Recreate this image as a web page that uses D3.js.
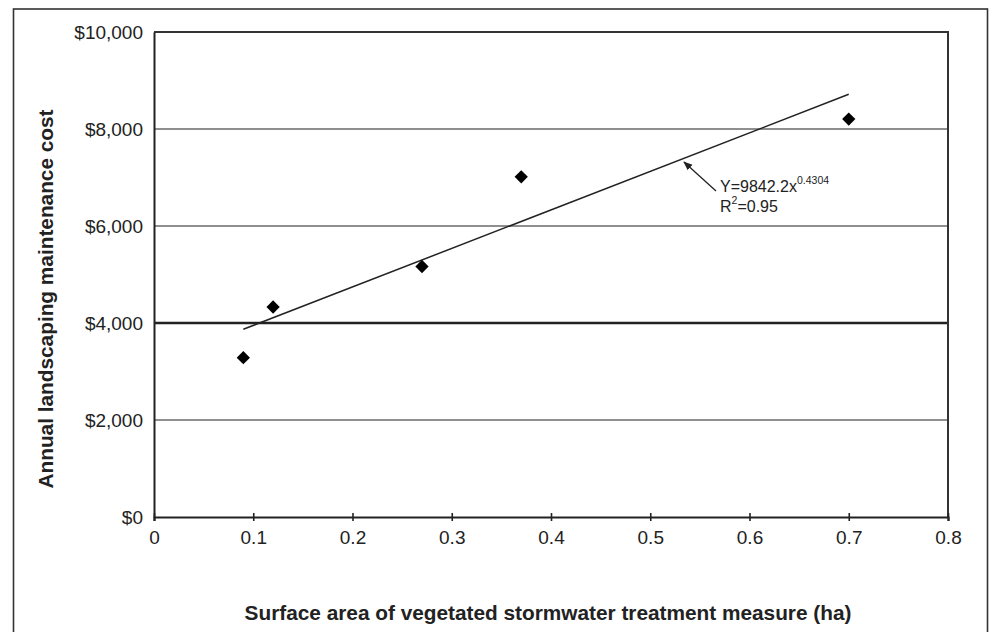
<!DOCTYPE html>
<html>
<head>
<meta charset="utf-8">
<script src="https://cdn.jsdelivr.net/npm/d3@7"></script>
<style>
  body { margin: 0; background: #fff; }
  svg { display: block; font-family: "Liberation Sans", Arial, sans-serif; }
</style>
</head>
<body>
<svg width="996" height="632"></svg>
<script>
// data
const areaHa = [0.09, 0.12, 0.27, 0.37, 0.70];
const costUsd = [3285, 4330, 5165, 7015, 8205];
// fitted trend line, as drawn (end points)
const trendX = [0.09, 0.70];
const trendY = [3870, 8715];
const xTicks = [0, 0.1, 0.2, 0.3, 0.4, 0.5, 0.6, 0.7, 0.8];
const yTicks = [0, 2000, 4000, 6000, 8000, 10000];
const heavyGrid = 4000;

const svg = d3.select('svg');

const plotL = 154, plotR = 948, plotT = 32, plotB = 517;

const x = d3.scaleLinear().domain([0, 0.8]).range([plotL, plotR]);
const y = d3.scaleLinear().domain([0, 10000]).range([plotB, plotT]);

// outer frame (runs off the bottom of the picture)
svg.append('rect')
    .attr('x', 13.5).attr('y', 9)
    .attr('width', 974).attr('height', 640)
    .attr('fill', 'none')
    .attr('stroke', '#333')
    .attr('stroke-width', 1.6);

// gridlines
svg.selectAll('line.grid')
    .data(yTicks.filter(d => d > 0 && d < 10000))
    .enter()
    .append('line')
    .attr('class', 'grid')
    .attr('x1', plotL).attr('x2', plotR)
    .attr('y1', d => y(d)).attr('y2', d => y(d))
    .attr('stroke', d => d === heavyGrid ? '#222' : '#6a6a6a')
    .attr('stroke-width', d => d === heavyGrid ? 2.4 : 1.5);

// plot border top and right
svg.append('path')
    .attr('d', `M${plotL},${y(10000)}H${plotR}V${plotB}`)
    .attr('fill', 'none')
    .attr('stroke', '#333')
    .attr('stroke-width', 2);

// y axis
const yAxis = svg.append('g')
    .attr('transform', `translate(${plotL},0)`)
    .call(d3.axisLeft(y).tickValues(yTicks).tickSize(0).tickPadding(11)
        .tickFormat(d => '$' + d3.format(',')(d)));
yAxis.select('.domain').attr('stroke', '#222').attr('stroke-width', 2);
yAxis.selectAll('text')
    .attr('font-size', 19)
    .attr('fill', '#222')
    .attr('font-family', '"Liberation Sans", Arial, sans-serif');

// x axis
const xAxis = svg.append('g')
    .attr('transform', `translate(0,${plotB})`)
    .call(d3.axisBottom(x).tickValues(xTicks).tickSize(4).tickPadding(0)
        .tickFormat(d => d3.format('')(d)));
xAxis.select('.domain').attr('stroke', '#222').attr('stroke-width', 2.2);
xAxis.selectAll('.tick line')
    .attr('y1', -4).attr('y2', 4)
    .attr('stroke', '#222').attr('stroke-width', 1.6);
xAxis.selectAll('text')
    .attr('y', 27).attr('dy', 0)
    .attr('font-size', 19)
    .attr('fill', '#222')
    .attr('font-family', '"Liberation Sans", Arial, sans-serif');

// trend line
svg.append('line')
    .attr('x1', x(trendX[0])).attr('y1', y(trendY[0]))
    .attr('x2', x(trendX[1])).attr('y2', y(trendY[1]))
    .attr('stroke', '#222')
    .attr('stroke-width', 1.5);

// data points
svg.selectAll('path.pt')
    .data(areaHa)
    .enter()
    .append('path')
    .attr('class', 'pt')
    .attr('d', d3.symbol(d3.symbolSquare, 88))
    .attr('transform', (d, i) => `translate(${x(d)},${y(costUsd[i])}) rotate(45)`)
    .attr('fill', '#000');

// annotation arrow + equation
const defs = svg.append('defs');
defs.append('marker')
    .attr('id', 'arr')
    .attr('viewBox', '0 0 10 10')
    .attr('refX', 9).attr('refY', 5)
    .attr('markerWidth', 7).attr('markerHeight', 7)
    .attr('orient', 'auto')
    .append('path')
    .attr('d', 'M0,1L10,5L0,9Z')
    .attr('fill', '#222');

svg.append('line')
    .attr('x1', 716).attr('y1', 191)
    .attr('x2', 684).attr('y2', 162)
    .attr('stroke', '#222')
    .attr('stroke-width', 1.3)
    .attr('marker-end', 'url(#arr)');

const eq = svg.append('text')
    .attr('x', 720).attr('y', 192)
    .attr('font-size', 16)
    .attr('fill', '#222');
eq.append('tspan').text('Y=9842.2x');
eq.append('tspan').attr('dy', -8).attr('font-size', 10.5).text('0.4304');

const r2 = svg.append('text')
    .attr('x', 720).attr('y', 211.5)
    .attr('font-size', 16)
    .attr('fill', '#222');
r2.append('tspan').text('R');
r2.append('tspan').attr('dy', -8).attr('font-size', 10.5).text('2');
r2.append('tspan').attr('dy', 8).text('=0.95');

// axis titles
svg.append('text')
    .attr('x', 548).attr('y', 620)
    .attr('text-anchor', 'middle')
    .attr('font-size', 20.8)
    .attr('font-weight', 'bold')
    .attr('fill', '#222')
    .text('Surface area of vegetated stormwater treatment measure (ha)');

svg.append('text')
    .attr('transform', 'translate(53,299) rotate(-90)')
    .attr('text-anchor', 'middle')
    .attr('font-size', 20.8)
    .attr('font-weight', 'bold')
    .attr('fill', '#222')
    .text('Annual landscaping maintenance cost');
</script>
</body>
</html>
